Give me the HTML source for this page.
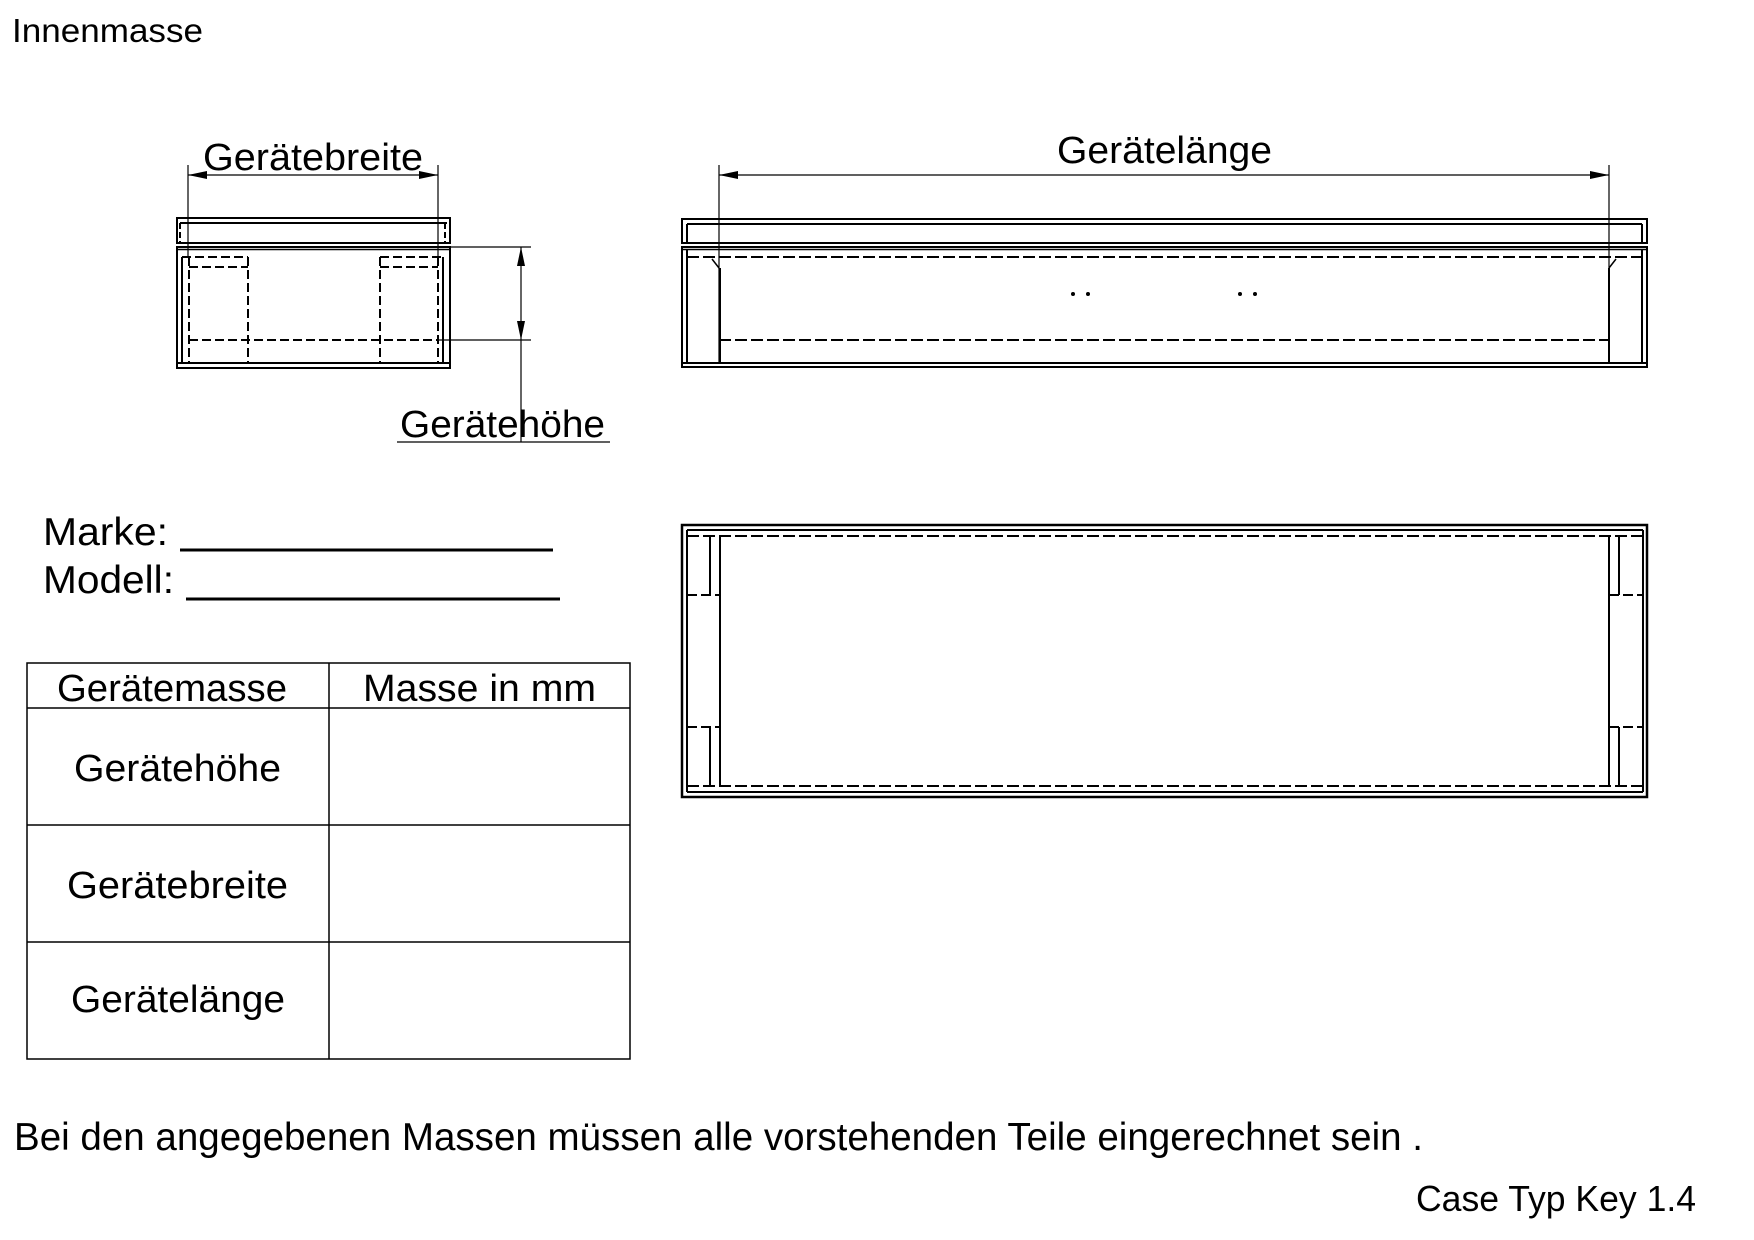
<!DOCTYPE html>
<html><head><meta charset="utf-8"><style>
html,body{margin:0;padding:0;background:#fff}
svg{display:block}
text{font-family:"Liberation Sans",sans-serif;fill:#000}
</style></head><body>
<svg width="1754" height="1240" viewBox="0 0 1754 1240" xmlns="http://www.w3.org/2000/svg">
<rect width="1754" height="1240" fill="#fff"/>
<g stroke="#000" fill="none">
<rect x="177" y="218" width="273" height="25" stroke-width="2"/>
<line x1="180" y1="223" x2="447" y2="223" stroke-width="2"/>
<line x1="180" y1="223" x2="180" y2="243" stroke-width="2" stroke-dasharray="6,3"/>
<line x1="445" y1="223" x2="445" y2="243" stroke-width="2" stroke-dasharray="6,3"/>
<rect x="177" y="247" width="273" height="121" stroke-width="2"/>
<line x1="177" y1="249.5" x2="450" y2="249.5" stroke-width="1.5"/>
<line x1="177" y1="363" x2="450" y2="363" stroke-width="2"/>
<line x1="182" y1="257" x2="182" y2="363" stroke-width="2"/>
<line x1="443" y1="257" x2="443" y2="363" stroke-width="2"/>
<g stroke-width="2" stroke-dasharray="9,4">
<line x1="182" y1="257" x2="248" y2="257"/>
<line x1="189" y1="267" x2="248" y2="267"/>
<line x1="189" y1="257" x2="189" y2="363"/>
<line x1="248" y1="257" x2="248" y2="363"/>
<line x1="380" y1="257" x2="443" y2="257"/>
<line x1="380" y1="267" x2="438" y2="267"/>
<line x1="380" y1="257" x2="380" y2="363"/>
<line x1="438" y1="257" x2="438" y2="363"/>
<line x1="189" y1="340" x2="438" y2="340"/>
</g>
<line x1="188" y1="165" x2="188" y2="258" stroke-width="1.2"/>
<line x1="438" y1="165" x2="438" y2="258" stroke-width="1.2"/>
<line x1="188" y1="175" x2="438" y2="175" stroke-width="1.2"/>
<line x1="450" y1="247" x2="531" y2="247" stroke-width="1.2"/>
<line x1="438" y1="340" x2="531" y2="340" stroke-width="1.2"/>
<line x1="521" y1="247" x2="521" y2="442" stroke-width="1.2"/>
<line x1="397" y1="442" x2="610" y2="442" stroke-width="1.2"/>
<rect x="682" y="219" width="965" height="24" stroke-width="2"/>
<line x1="687" y1="224" x2="1642" y2="224" stroke-width="2"/>
<line x1="687" y1="224" x2="687" y2="243" stroke-width="2"/>
<line x1="1642" y1="224" x2="1642" y2="243" stroke-width="2"/>
<rect x="682" y="247" width="965" height="120" stroke-width="2"/>
<line x1="682" y1="249.5" x2="1647" y2="249.5" stroke-width="1.5"/>
<line x1="682" y1="363" x2="1647" y2="363" stroke-width="2"/>
<line x1="687" y1="249" x2="687" y2="363" stroke-width="2"/>
<line x1="1642" y1="249" x2="1642" y2="363" stroke-width="2"/>
<line x1="687" y1="257" x2="1642" y2="257" stroke-width="2" stroke-dasharray="12,4"/>
<line x1="719" y1="340" x2="1609" y2="340" stroke-width="2" stroke-dasharray="12,4"/>
<line x1="720" y1="268" x2="720" y2="363" stroke-width="2"/>
<line x1="1609" y1="268" x2="1609" y2="363" stroke-width="2"/>
<line x1="712" y1="259" x2="719" y2="268" stroke-width="1.5"/>
<line x1="1616" y1="259" x2="1609" y2="268" stroke-width="1.5"/>
<line x1="719" y1="165" x2="719" y2="363" stroke-width="1.2"/>
<line x1="1609" y1="165" x2="1609" y2="363" stroke-width="1.2"/>
<line x1="719" y1="175" x2="1609" y2="175" stroke-width="1.2"/>
<rect x="682" y="525" width="965" height="272" stroke-width="2.5"/>
<line x1="687" y1="530" x2="1643" y2="530" stroke-width="2"/>
<line x1="687" y1="792" x2="1643" y2="792" stroke-width="2"/>
<line x1="687" y1="530" x2="687" y2="792" stroke-width="2"/>
<line x1="1643" y1="530" x2="1643" y2="792" stroke-width="2"/>
<line x1="687" y1="536" x2="1643" y2="536" stroke-width="2" stroke-dasharray="12,4"/>
<line x1="687" y1="786" x2="1643" y2="786" stroke-width="2" stroke-dasharray="12,4"/>
<line x1="720" y1="536" x2="720" y2="786" stroke-width="2"/>
<line x1="1609" y1="536" x2="1609" y2="786" stroke-width="2"/>
<line x1="710" y1="536" x2="710" y2="595" stroke-width="2"/>
<line x1="710" y1="727" x2="710" y2="786" stroke-width="2"/>
<line x1="1619" y1="536" x2="1619" y2="595" stroke-width="2"/>
<line x1="1619" y1="727" x2="1619" y2="786" stroke-width="2"/>
<g stroke-width="2" stroke-dasharray="10,4">
<line x1="687" y1="595" x2="720" y2="595"/>
<line x1="687" y1="727" x2="720" y2="727"/>
<line x1="1609" y1="595" x2="1643" y2="595"/>
<line x1="1609" y1="727" x2="1643" y2="727"/>
</g>
<rect x="27" y="663" width="603" height="396" stroke-width="1.5"/>
<line x1="329" y1="663" x2="329" y2="1059" stroke-width="1.5"/>
<line x1="27" y1="708" x2="630" y2="708" stroke-width="1.5"/>
<line x1="27" y1="825" x2="630" y2="825" stroke-width="1.5"/>
<line x1="27" y1="942" x2="630" y2="942" stroke-width="1.5"/>
<line x1="180" y1="550" x2="553" y2="550" stroke-width="3"/>
<line x1="186" y1="599" x2="560" y2="599" stroke-width="3"/>
</g>
<g fill="#000">
<polygon points="188,175 207,171 207,179"/>
<polygon points="438,175 419,171 419,179"/>
<polygon points="521,247 517,266 525,266"/>
<polygon points="521,340 517,321 525,321"/>
<polygon points="719,175 738,171 738,179"/>
<polygon points="1609,175 1590,171 1590,179"/>
<circle cx="1073" cy="294" r="2"/><circle cx="1088" cy="294" r="2"/>
<circle cx="1240" cy="294" r="2"/><circle cx="1255" cy="294" r="2"/>
</g>
<text x="12" y="42" font-size="33" textLength="191" lengthAdjust="spacingAndGlyphs">Innenmasse</text>
<text x="203" y="170" font-size="38" textLength="220" lengthAdjust="spacingAndGlyphs">Gerätebreite</text>
<text x="1057" y="163" font-size="38" textLength="215" lengthAdjust="spacingAndGlyphs">Gerätelänge</text>
<text x="400" y="437" font-size="38" textLength="205" lengthAdjust="spacingAndGlyphs">Gerätehöhe</text>
<text x="43" y="545" font-size="39" textLength="125" lengthAdjust="spacingAndGlyphs">Marke:</text>
<text x="43" y="593" font-size="39" textLength="131" lengthAdjust="spacingAndGlyphs">Modell:</text>
<text x="57" y="701" font-size="38" textLength="230" lengthAdjust="spacingAndGlyphs">Gerätemasse</text>
<text x="363" y="701" font-size="38" textLength="233" lengthAdjust="spacingAndGlyphs">Masse in mm</text>
<text x="74" y="781" font-size="38" textLength="207" lengthAdjust="spacingAndGlyphs">Gerätehöhe</text>
<text x="67" y="898" font-size="38" textLength="221" lengthAdjust="spacingAndGlyphs">Gerätebreite</text>
<text x="71" y="1012" font-size="38" textLength="214" lengthAdjust="spacingAndGlyphs">Gerätelänge</text>
<text x="14" y="1150" font-size="39" textLength="1409" lengthAdjust="spacingAndGlyphs">Bei den angegebenen Massen müssen alle vorstehenden Teile eingerechnet sein .</text>
<text x="1416" y="1211" font-size="36" textLength="280" lengthAdjust="spacingAndGlyphs">Case Typ Key 1.4</text>
</svg>
</body></html>
